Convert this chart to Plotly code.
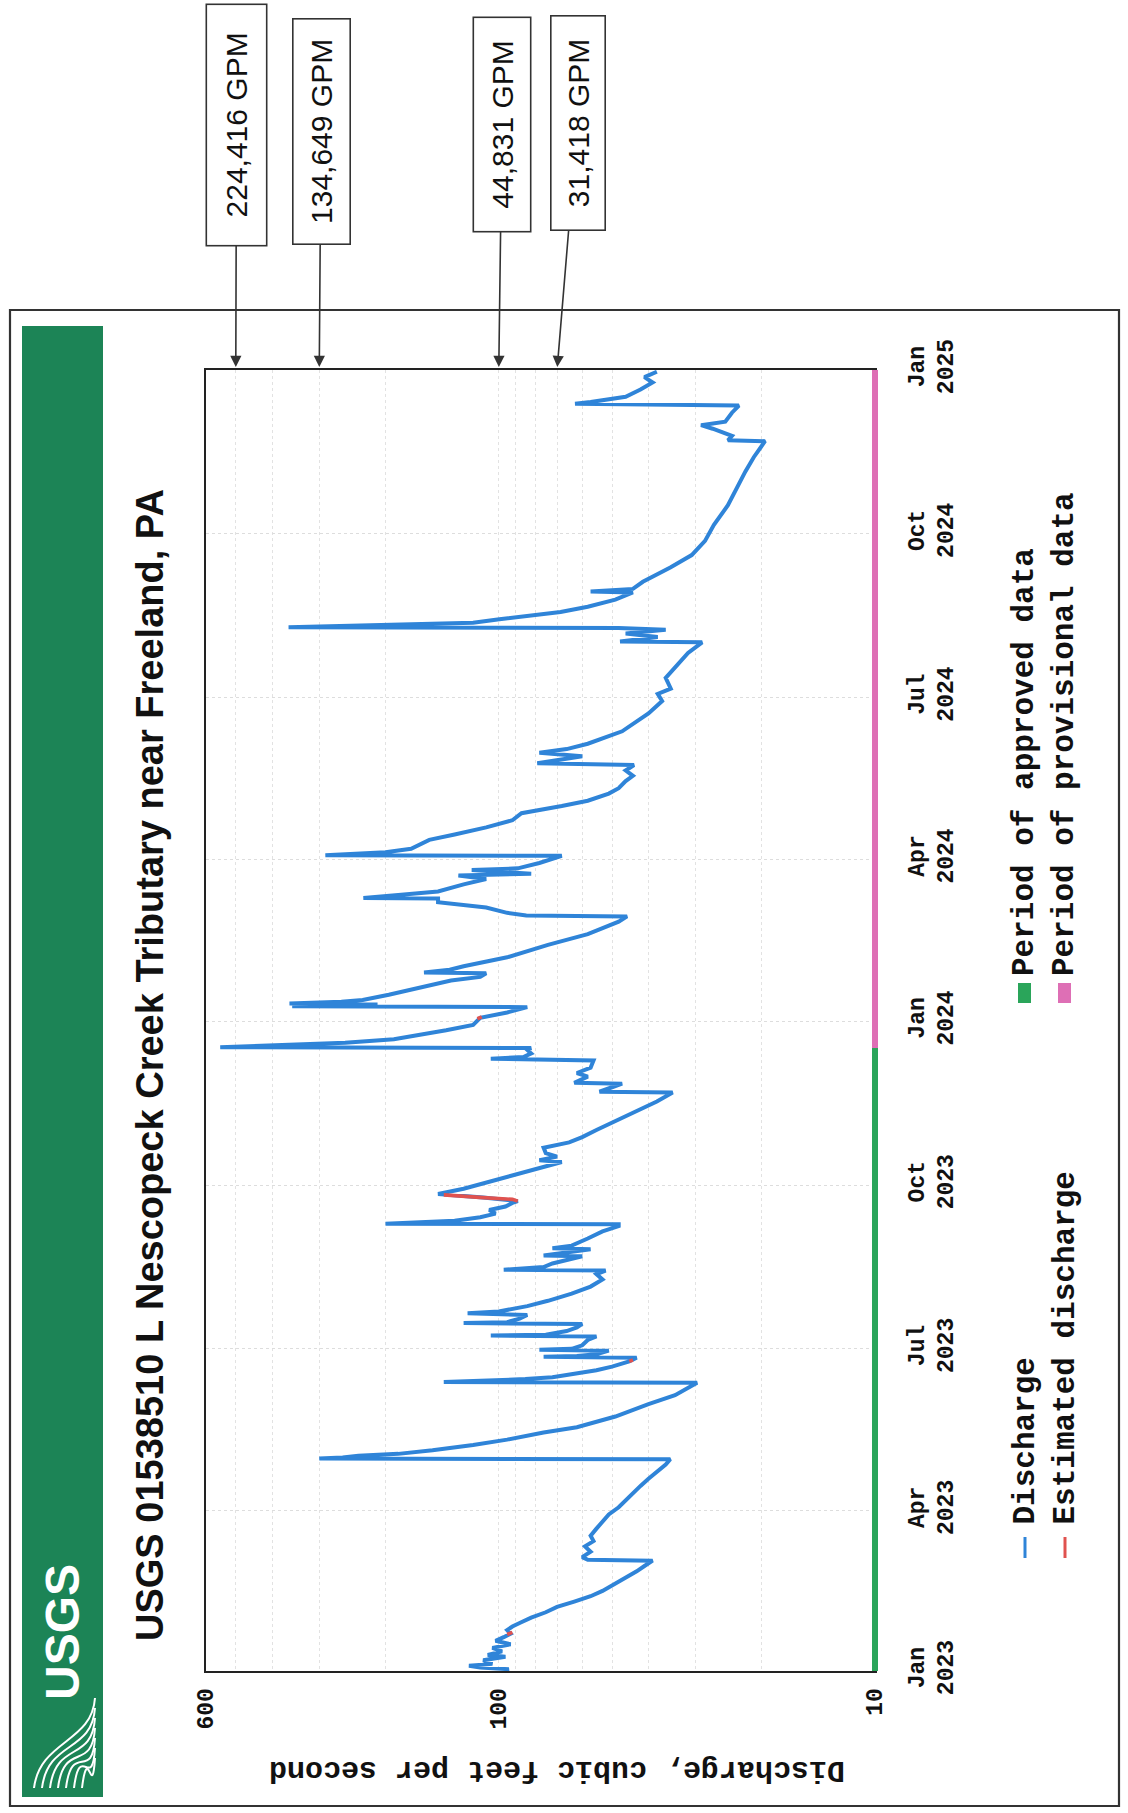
import numpy as np
import plotly.graph_objects as go

# ---------------- data ----------------
discharge_2023 = [
    ("2023-01-01", 98), ("2023-01-02", 94), ("2023-01-03", 112), ("2023-01-04", 120),
    ("2023-01-05", 104), ("2023-01-07", 110), ("2023-01-09", 96), ("2023-01-10", 107),
    ("2023-01-12", 98), ("2023-01-14", 104), ("2023-01-16", 93), ("2023-01-18", 102),
    ("2023-01-20", 97), ("2023-01-22", 93), ("2023-01-24", 95), ("2023-01-26", 92),
    ("2023-01-28", 88), ("2023-01-31", 82), ("2023-02-03", 75), ("2023-02-06", 70),
    ("2023-02-09", 63), ("2023-02-12", 57), ("2023-02-15", 53), ("2023-02-18", 50),
    ("2023-02-22", 46), ("2023-02-26", 43), ("2023-03-01", 41), ("2023-03-04", 39),
    ("2023-03-04 12:00", 58), ("2023-03-06", 60), ("2023-03-09", 57), ("2023-03-12", 59),
    ("2023-03-15", 56), ("2023-03-18", 57), ("2023-03-22", 55), ("2023-03-26", 53),
    ("2023-03-30", 51), ("2023-04-03", 48), ("2023-04-07", 46), ("2023-04-11", 44),
    ("2023-04-15", 42), ("2023-04-19", 40), ("2023-04-23", 38), ("2023-04-27", 36),
    ("2023-04-30", 35), ("2023-04-30 08:00", 300), ("2023-05-01", 260), ("2023-05-02", 236),
    ("2023-05-03", 185), ("2023-05-05", 150), ("2023-05-08", 117), ("2023-05-11", 95),
    ("2023-05-15", 76), ("2023-05-18", 62), ("2023-05-24", 49), ("2023-05-31", 40),
    ("2023-06-05", 34), ("2023-06-11", 30), ("2023-06-12", 29.7), ("2023-06-12 08:00", 140),
    ("2023-06-13", 110), ("2023-06-14", 85), ("2023-06-15", 72), ("2023-06-17", 62),
    ("2023-06-19", 55), ("2023-06-21", 50), ("2023-06-24", 45), ("2023-06-26", 43),
    ("2023-06-26 12:00", 76), ("2023-06-27", 62), ("2023-06-28", 55), ("2023-06-30", 51),
    ("2023-06-30 12:00", 78), ("2023-07-01", 64), ("2023-07-03", 60), ("2023-07-06", 58),
    ("2023-07-08", 55), ("2023-07-08 12:00", 105), ("2023-07-09", 75), ("2023-07-11", 66),
    ("2023-07-13", 62), ("2023-07-15", 60), ("2023-07-15 12:00", 124), ("2023-07-16", 95),
    ("2023-07-18", 88), ("2023-07-20", 84), ("2023-07-21", 121), ("2023-07-22", 100),
    ("2023-07-25", 84), ("2023-07-28", 74), ("2023-08-01", 64), ("2023-08-05", 57),
    ("2023-08-09", 53), ("2023-08-12", 55), ("2023-08-14", 52), ("2023-08-14 12:00", 97),
    ("2023-08-16", 76), ("2023-08-18", 72), ("2023-08-20", 66), ("2023-08-22", 60),
    ("2023-08-22 12:00", 76), ("2023-08-24", 68), ("2023-08-26", 57), ("2023-08-26 12:00", 72),
    ("2023-08-28", 64), ("2023-09-01", 58), ("2023-09-05", 53), ("2023-09-08", 48),
    ("2023-09-09", 48), ("2023-09-09 08:00", 200), ("2023-09-10", 166), ("2023-09-11", 131),
    ("2023-09-13", 112), ("2023-09-15", 102), ("2023-09-17", 106), ("2023-09-19", 96),
    ("2023-09-21", 92), ("2023-09-22", 89), ("2023-09-24", 110), ("2023-09-26", 145),
    ("2023-09-29", 124), ("2023-10-02", 110), ("2023-10-05", 97), ("2023-10-08", 85),
    ("2023-10-11", 76), ("2023-10-14", 68), ("2023-10-15", 78), ("2023-10-17", 70),
    ("2023-10-19", 75), ("2023-10-22", 76), ("2023-10-25", 65), ("2023-10-28", 60),
    ("2023-11-01", 55), ("2023-11-06", 49), ("2023-11-12", 43), ("2023-11-17", 38),
    ("2023-11-22", 34.5), ("2023-11-22 12:00", 54), ("2023-11-25", 50), ("2023-11-27", 47),
    ("2023-11-27 12:00", 63), ("2023-12-01", 58), ("2023-12-03", 62), ("2023-12-06", 57),
    ("2023-12-10", 56), ("2023-12-11", 105), ("2023-12-12", 86), ("2023-12-14", 82),
    ("2023-12-16", 84), ("2023-12-17", 82), ("2023-12-17 12:00", 550), ("2023-12-18", 473),
    ("2023-12-19", 336), ("2023-12-20", 256), ("2023-12-22", 190), ("2023-12-24", 166),
    ("2023-12-27", 138), ("2023-12-30", 117),
]

discharge_2024 = [
    ("2024-01-03", 112), ("2024-01-06", 95), ("2024-01-09", 84), ("2024-01-09 12:00", 354),
    ("2024-01-10", 300), ("2024-01-10 12:00", 210), ("2024-01-11", 360), ("2024-01-12", 262),
    ("2024-01-13", 230), ("2024-01-16", 196), ("2024-01-20", 162), ("2024-01-24", 134),
    ("2024-01-26", 112), ("2024-01-28", 108), ("2024-01-28 12:00", 158), ("2024-01-30", 135),
    ("2024-02-01", 124), ("2024-02-06", 95), ("2024-02-13", 74), ("2024-02-19", 58),
    ("2024-02-26", 48), ("2024-02-29", 45.6), ("2024-02-29 12:00", 84.5), ("2024-03-02", 95),
    ("2024-03-05", 108), ("2024-03-08", 145), ("2024-03-10", 145), ("2024-03-10 08:00", 229),
    ("2024-03-12", 185), ("2024-03-14", 145), ("2024-03-18", 124), ("2024-03-21", 108),
    ("2024-03-23", 128), ("2024-03-24", 82), ("2024-03-26", 118), ("2024-03-27", 89),
    ("2024-03-30", 78), ("2024-04-03", 68), ("2024-04-03 08:00", 289), ("2024-04-04", 247),
    ("2024-04-05", 200), ("2024-04-07", 171), ("2024-04-12", 153), ("2024-04-15", 131),
    ("2024-04-19", 108), ("2024-04-23", 92), ("2024-04-27", 87), ("2024-05-01", 68),
    ("2024-05-04", 58), ("2024-05-08", 51), ("2024-05-11", 48), ("2024-05-15", 46),
    ("2024-05-18", 44), ("2024-05-21", 46), ("2024-05-24", 43.7), ("2024-05-25", 79),
    ("2024-05-27", 68), ("2024-05-29", 60), ("2024-05-31", 78), ("2024-06-02", 66),
    ("2024-06-05", 58), ("2024-06-12", 47), ("2024-06-22", 40), ("2024-06-29", 36.8),
    ("2024-07-03", 37.8), ("2024-07-06", 34.9), ("2024-07-12", 36), ("2024-07-18", 34),
    ("2024-07-26", 31.4), ("2024-08-01", 28.8), ("2024-08-01 12:00", 47.6), ("2024-08-04", 37.8),
    ("2024-08-06", 46), ("2024-08-08", 36), ("2024-08-09", 48), ("2024-08-09 12:00", 362),
    ("2024-08-11", 181), ("2024-08-12", 117), ("2024-08-14", 99.6), ("2024-08-16", 84),
    ("2024-08-18", 68.5), ("2024-08-21", 58), ("2024-08-25", 49), ("2024-08-29", 44),
    ("2024-08-29 12:00", 57), ("2024-08-31", 44), ("2024-09-04", 41.4), ("2024-09-12", 35.0),
    ("2024-09-19", 30.7), ("2024-09-27", 28.3), ("2024-10-06", 26.8), ("2024-10-17", 24.6),
    ("2024-10-27", 23.3), ("2024-11-05", 22.1), ("2024-11-13", 21.0), ("2024-11-22", 19.6),
    ("2024-11-22 12:00", 24.6), ("2024-11-25", 24), ("2024-11-29", 27), ("2024-12-01", 29),
    ("2024-12-03", 25), ("2024-12-08", 24), ("2024-12-12", 23), ("2024-12-13", 62.7),
    ("2024-12-14", 57), ("2024-12-17", 46), ("2024-12-21", 42), ("2024-12-25", 39),
    ("2024-12-28", 41), ("2024-12-31", 38),
]

estimated_segments = [
    [("2023-01-21 12:00", 95), ("2023-01-22 18:00", 92)],
    [("2023-06-24", 45), ("2023-06-24 18:00", 44)],
    [("2023-09-22", 89), ("2023-09-23", 92), ("2023-09-24", 110), ("2023-09-25 12:00", 140)],
    [("2024-01-02 12:00", 114), ("2024-01-03 12:00", 111)],
]

time_ticks = ["2023-01-01", "2023-04-01", "2023-07-01", "2023-10-01", "2024-01-01",
              "2024-04-01", "2024-07-01", "2024-10-01", "2025-01-01"]
time_tick_labels = ["Jan<br>2023", "Apr<br>2023", "Jul<br>2023", "Oct<br>2023", "Jan<br>2024",
                    "Apr<br>2024", "Jul<br>2024", "Oct<br>2024", "Jan<br>2025"]
q_ticks = [600, 100, 10]
q_tick_labels = ["600", "100", "10"]
q_minor = [20, 30, 40, 50, 60, 70, 80, 90, 200, 300, 400, 500]
q_range = [600, 10]
time_range = ["2023-01-01", "2025-01-01"]

gpm_labels = ["224,416 GPM", "134,649 GPM", "44,831 GPM", "31,418 GPM"]
gpm_cfs = [500, 300, 100, 70]

approved_period = ["2023-01-01", "2023-12-17"]
provisional_period = ["2023-12-17", "2025-01-01"]

title_text = "USGS 01538510 L Nescopeck Creek Tributary near Freeland, PA"
axis_title = "Discharge, cubic feet per second"
legend_lines = ["Discharge", "Estimated discharge"]
legend_periods = ["Period of approved data", "Period of provisional data"]

# ---------------- layout geometry (pixels) ----------------
W, H = 1128, 1813
PL, PR, PT, PB = 206, 875, 370, 1671


def px(x):
    return (x - PL) / (PR - PL)


def py(y):
    return (PB - y) / (PB - PT)


BLUE = "#2f84d8"
RED = "#e0524f"
GREEN_BAR = "#2aa55a"
PINK_BAR = "#de6fb5"
BANNER = "#1c8456"
INK = "#222222"
MONO = "Liberation Mono, DejaVu Sans Mono, monospace"
SANS = "Liberation Sans, Arial"

fig = go.Figure()

d_dates = [d for d, _ in discharge_2023 + discharge_2024]
d_vals = [v for _, v in discharge_2023 + discharge_2024]
fig.add_trace(go.Scatter(x=d_vals, y=d_dates, mode="lines",
                         line=dict(color=BLUE, width=4), showlegend=False))

e_dates, e_vals = [], []
for seg in estimated_segments:
    e_dates += [d for d, _ in seg] + [None]
    e_vals += [v for _, v in seg] + [None]
fig.add_trace(go.Scatter(x=e_vals, y=e_dates, mode="lines",
                         line=dict(color=RED, width=3.6), showlegend=False))

shapes = []
# outer frame and banner
shapes.append(dict(type="rect", xref="paper", yref="paper", x0=px(10), x1=px(1119),
                   y0=py(1806), y1=py(310), line=dict(color="#333", width=2.2)))
shapes.append(dict(type="rect", xref="paper", yref="paper", x0=px(22), x1=px(103),
                   y0=py(1797), y1=py(326), fillcolor=BANNER, line=dict(width=0), layer="below"))
# wave logo
for i in range(7):
    x0 = 34 + i * 8
    y1 = 1698 + i * 10
    path = "M {},{} C {},{} {},{} {},{}".format(
        px(x0), py(1788), px(x0 + 6), py(1740), px(92), py(y1 + 45), px(95), py(y1))
    shapes.append(dict(type="path", xref="paper", yref="paper", path=path,
                       line=dict(color="white", width=2)))
# approved / provisional period bars
shapes.append(dict(type="line", xref="paper", yref="y", x0=1.0, x1=1.0,
                   y0=approved_period[0], y1=approved_period[1],
                   line=dict(color=GREEN_BAR, width=6)))
shapes.append(dict(type="line", xref="paper", yref="y", x0=1.0, x1=1.0,
                   y0=provisional_period[0], y1=provisional_period[1],
                   line=dict(color=PINK_BAR, width=6)))
# legend symbols
shapes.append(dict(type="line", xref="paper", yref="paper", x0=px(1025), x1=px(1025),
                   y0=py(1558), y1=py(1537), line=dict(color=BLUE, width=3)))
shapes.append(dict(type="line", xref="paper", yref="paper", x0=px(1065), x1=px(1065),
                   y0=py(1558), y1=py(1537), line=dict(color=RED, width=3)))
shapes.append(dict(type="rect", xref="paper", yref="paper", x0=px(1018), x1=px(1031),
                   y0=py(1003), y1=py(983), fillcolor=GREEN_BAR, line=dict(width=0)))
shapes.append(dict(type="rect", xref="paper", yref="paper", x0=px(1058), x1=px(1071),
                   y0=py(1003), y1=py(983), fillcolor=PINK_BAR, line=dict(width=0)))

ann = []
ann.append(dict(text="<b>" + title_text + "</b>", xref="paper", yref="paper",
                x=px(150), y=py(1065), xanchor="center", yanchor="middle",
                textangle=-90, showarrow=False,
                font=dict(family=SANS, size=38, color="#111")))
ann.append(dict(text="<b>USGS</b>", xref="paper", yref="paper", x=px(62), y=py(1632),
                xanchor="center", yanchor="middle",
                textangle=-90, showarrow=False,
                font=dict(family=SANS, size=48, color="white")))
ann.append(dict(text=axis_title, xref="paper", yref="paper", x=px(557), y=py(1770),
                xanchor="center", yanchor="middle",
                textangle=180, showarrow=False,
                font=dict(family=MONO, size=30, color="#111", weight="bold")))
for i, t in enumerate(legend_lines):
    ann.append(dict(text=t, xref="paper", yref="paper", x=px(1025 + 40 * i), y=py(1527),
                    xanchor="center", yanchor="bottom", textangle=-90, showarrow=False,
                    font=dict(family=MONO, size=31, color="#111", weight="bold")))
for i, t in enumerate(legend_periods):
    ann.append(dict(text=t, xref="paper", yref="paper", x=px(1025 + 40 * i), y=py(978),
                    xanchor="center", yanchor="bottom", textangle=-90, showarrow=False,
                    font=dict(family=MONO, size=31, color="#111", weight="bold")))

# GPM call-out boxes with arrows
box_cx = [236.5, 321, 502, 577.5]
box_cy = [125, 132, 124.5, 123.5]
box_len = [240, 224, 213, 213]
box_thk = [59, 56, 56, 53]
lmin, lmax = np.log10(q_range[1]), np.log10(q_range[0])
for lab, q, cx, cy, ln, th in zip(gpm_labels, gpm_cfs, box_cx, box_cy, box_len, box_thk):
    tip_x = PL + (PR - PL) * (lmax - np.log10(q)) / (lmax - lmin)
    ann.append(dict(text=lab, xref="x", yref="paper", x=np.log10(q), y=1,
                    showarrow=True, ax=cx - tip_x, ay=cy - PT, axref="pixel", ayref="pixel",
                    arrowhead=2, arrowsize=1.4, arrowwidth=1.6, arrowcolor="#333", standoff=3,
                    textangle=-90, width=ln, height=th, borderpad=0,
                    bordercolor="#333", borderwidth=1.6, bgcolor="white",
                    font=dict(family=SANS, size=30, color="#111")))

fig.update_layout(
    width=W, height=H,
    margin=dict(l=PL, r=W - PR, t=PT, b=H - PB, autoexpand=False),
    paper_bgcolor="white", plot_bgcolor="white",
    showlegend=False,
    shapes=shapes, annotations=ann,
    xaxis=dict(type="log", range=[np.log10(q_range[0]), np.log10(q_range[1])],
               tickmode="array", tickvals=q_ticks, ticktext=q_tick_labels,
               tickangle=-90, ticks="", ticklabelstandoff=6,
               tickfont=dict(family=MONO, size=23, color="#111", weight="bold"),
               showline=True, linecolor=INK, linewidth=2, mirror=True,
               showgrid=True, gridcolor="#e2e2e2", griddash="dot", gridwidth=1,
               minor=dict(tickmode="array", tickvals=q_minor, showgrid=True,
                          gridcolor="#e2e2e2", griddash="dot", gridwidth=1, ticks=""),
               zeroline=False),
    yaxis=dict(type="date", range=time_range, side="right",
               tickmode="array", tickvals=time_ticks, ticktext=time_tick_labels,
               tickangle=-90, ticks="", ticklabelstandoff=19,
               tickfont=dict(family=MONO, size=23, color="#111", weight="bold"),
               showline=True, linecolor=INK, linewidth=2, mirror=True,
               showgrid=True, gridcolor="#dddddd", griddash="dot", gridwidth=1,
               zeroline=False),
)

fig.write_html("out.html")
